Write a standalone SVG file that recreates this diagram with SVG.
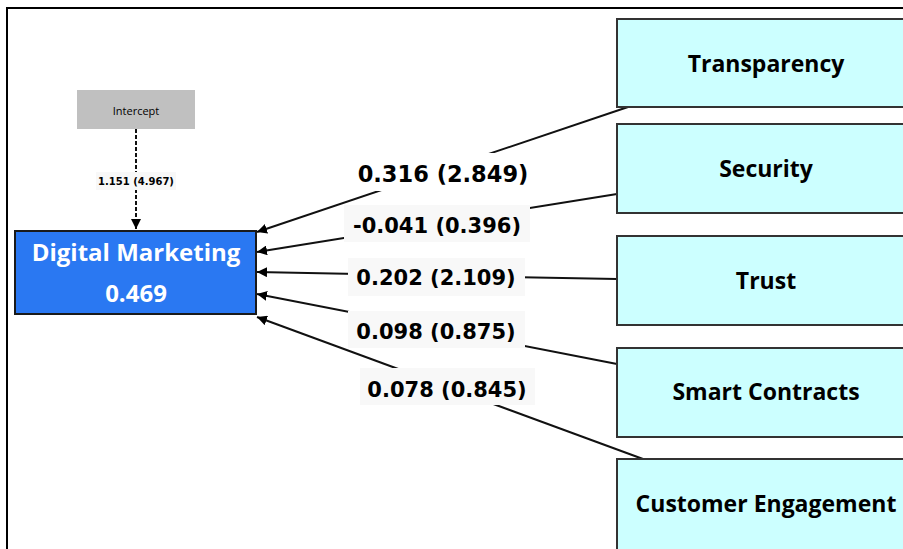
<svg xmlns="http://www.w3.org/2000/svg" width="903" height="549" viewBox="0 0 903 549">
<style>
text{font-family:"Open Sans","Noto Sans","DejaVu Sans",sans-serif;font-weight:bold;text-anchor:middle;fill:#000}
.ind{fill:#ccffff;stroke:#333;stroke-width:2}
.ind-t{font-size:23px}
.lbl{font-family:"DejaVu Sans",sans-serif;font-size:21px}
.lblbg{fill:#f8f8f8}
.edge{stroke:#111;stroke-width:2;fill:none}
</style>
<defs>
<marker id="ah" viewBox="0 0 10 10" refX="10" refY="5" markerWidth="10" markerHeight="10" markerUnits="userSpaceOnUse" orient="auto">
<path d="M0,0 L10,5 L0,10 z" fill="#000"/>
</marker>
</defs>
<rect width="903" height="549" fill="#fff"/>
<path d="M7,549 V8 H903" fill="none" stroke="#000" stroke-width="2"/>
<g id="connectors">
<line class="edge" x1="628" y1="107" x2="257" y2="232" marker-end="url(#ah)"/>
<line class="edge" x1="617" y1="194" x2="257" y2="252" marker-end="url(#ah)"/>
<line class="edge" x1="617" y1="279" x2="257" y2="272" marker-end="url(#ah)"/>
<line class="edge" x1="617" y1="364" x2="257" y2="294" marker-end="url(#ah)"/>
<line class="edge" x1="643" y1="459" x2="257" y2="317" marker-end="url(#ah)"/>
<line x1="136" y1="129" x2="136" y2="229" stroke="#111" stroke-width="2" stroke-dasharray="4,2" marker-end="url(#ah)"/>
<rect x="352" y="153" width="182" height="38" fill="#fff"/>
<text class="lbl" x="443" y="182" style="font-size:22.5px">0.316 (2.849)</text>
<rect class="lblbg" x="344" y="205" width="186" height="37"/>
<text class="lbl" x="437" y="233">-0.041 (0.396)</text>
<rect class="lblbg" x="348" y="258" width="177" height="38"/>
<text class="lbl" x="436" y="285">0.202 (2.109)</text>
<rect class="lblbg" x="348" y="311" width="177" height="37"/>
<text class="lbl" x="436" y="339">0.098 (0.875)</text>
<rect class="lblbg" x="360" y="368" width="175" height="37"/>
<text class="lbl" x="447" y="397">0.078 (0.845)</text>
<rect class="lblbg" x="96" y="172" width="80" height="18"/>
<text x="136" y="185" style="font-family:'DejaVu Sans',sans-serif;font-size:10px">1.151 (4.967)</text>
</g>
<g id="intercept">
<rect x="77" y="90" width="118" height="39" fill="#c0c0c0"/>
<text x="136" y="115" style="font-size:11px;font-weight:normal">Intercept</text>
</g>
<g id="digital-marketing">
<rect x="15" y="231" width="241" height="83" fill="#2a78f2" stroke="#1a1a1a" stroke-width="2"/>
<text x="136" y="261" style="font-size:24px;fill:#fff">Digital Marketing</text>
<text x="136" y="302" style="font-size:24px;fill:#fff">0.469</text>
</g>
<g id="transparency">
<rect class="ind" x="617" y="19" width="296" height="88"/>
<text class="ind-t" x="766" y="72">Transparency</text>
</g>
<g id="security">
<rect class="ind" x="617" y="124" width="296" height="89"/>
<text class="ind-t" x="766" y="177">Security</text>
</g>
<g id="trust">
<rect class="ind" x="617" y="236" width="296" height="89"/>
<text class="ind-t" x="766" y="289">Trust</text>
</g>
<g id="smart-contracts">
<rect class="ind" x="617" y="348" width="296" height="89"/>
<text class="ind-t" x="766" y="400">Smart Contracts</text>
</g>
<g id="customer-engagement">
<rect class="ind" x="617" y="459" width="296" height="100"/>
<text class="ind-t" x="766" y="512">Customer Engagement</text>
</g>
</svg>
